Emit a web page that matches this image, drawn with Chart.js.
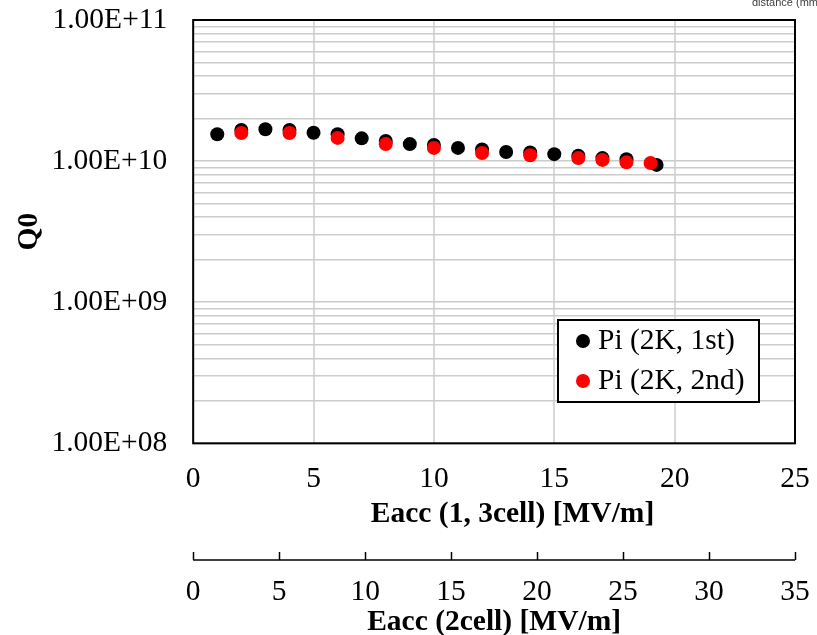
<!DOCTYPE html>
<html>
<head>
<meta charset="utf-8">
<script src="https://cdn.jsdelivr.net/npm/chart.js@4.4.1/dist/chart.umd.min.js"></script>
<style>
  body { margin: 0; background: #fff; }
</style>
</head>
<body>
<canvas id="myChart" width="817" height="635"></canvas>
<script>
// data
var eacc1st = [1, 2, 3, 4, 5, 6, 7, 8, 9, 10, 11, 12, 13, 14, 15, 16, 17, 18, 19.25];
var q0_1st = [1.55e10, 1.66e10, 1.68e10, 1.66e10, 1.59e10, 1.55e10, 1.45e10, 1.39e10, 1.32e10, 1.30e10,
              1.24e10, 1.21e10, 1.16e10, 1.15e10, 1.12e10, 1.09e10, 1.05e10, 1.03e10, 9.4e9];
var eacc2nd = [2, 4, 6, 8, 10, 12, 14, 16, 17, 18, 19];
var q0_2nd = [1.58e10, 1.58e10, 1.46e10, 1.32e10, 1.24e10, 1.14e10, 1.10e10, 1.05e10, 1.02e10, 9.8e9, 9.7e9];
var seriesNames = ['Pi (2K, 1st)', 'Pi (2K, 2nd)'];
var seriesColors = ['#000000', '#ff0000'];
var yDecades = [8, 9, 10, 11];
var x1Range = [0, 25];
var x2Range = [0, 35];

function toPoints(xs, ys) {
    return xs.map(function (x, i) { return { x: x, y: ys[i] }; });
}

// every 1..9 x 10^n line, like excel's log grid
var yTickValues = [];
for (var d = 0; d < yDecades.length - 1; d++) {
    for (var m = 1; m < 10; m++) yTickValues.push(m * Math.pow(10, yDecades[d]));
}
yTickValues.push(Math.pow(10, yDecades[yDecades.length - 1]));

var FS = 29.5;
var clear = 'rgba(0,0,0,0)';
Chart.defaults.font.family = "'Liberation Serif', 'Times New Roman', serif";
Chart.defaults.font.size = FS;
Chart.defaults.color = '#000';

var framePlugin = {
    id: 'frame',
    afterDraw: function (chart) {
        var ctx = chart.ctx, a = chart.chartArea;
        ctx.save();
        ctx.strokeStyle = '#000';
        ctx.lineWidth = 2;
        ctx.strokeRect(a.left, a.top, a.right - a.left, a.bottom - a.top);

        // second axis line under its ticks
        var s = chart.scales.x2;
        ctx.lineWidth = 1.5;
        ctx.beginPath();
        ctx.moveTo(s.left, s.top + 8);
        ctx.lineTo(s.right, s.top + 8);
        ctx.stroke();

        // legend box inside the plot
        var bx = 558, by = 320, bw = 201, bh = 82;
        ctx.fillStyle = '#fff';
        ctx.fillRect(bx, by, bw, bh);
        ctx.lineWidth = 2;
        ctx.strokeRect(bx, by, bw, bh);
        ctx.font = FS + "px 'Liberation Serif'";
        ctx.textBaseline = 'middle';
        chart.data.datasets.forEach(function (ds, i) {
            var cy = by + 21 + i * 40;
            ctx.fillStyle = ds.backgroundColor;
            ctx.beginPath();
            ctx.arc(bx + 25, cy, 7, 0, Math.PI * 2);
            ctx.fill();
            ctx.fillStyle = '#000';
            ctx.fillText(ds.label, bx + 40, cy);
        });

        // leftover label from the slide, cut at the edge
        ctx.font = "11px 'Liberation Sans'";
        ctx.fillStyle = '#404040';
        ctx.textBaseline = 'alphabetic';
        ctx.fillText('distance (mm)', 752, 6);
        ctx.restore();
    }
};

var ctx = document.getElementById('myChart').getContext('2d');
var myChart = new Chart(ctx, {
    type: 'scatter',
    data: {
        datasets: [{
            label: seriesNames[0],
            data: toPoints(eacc1st, q0_1st),
            backgroundColor: seriesColors[0],
            borderWidth: 0,
            pointRadius: 7,
            order: 2
        }, {
            label: seriesNames[1],
            data: toPoints(eacc2nd, q0_2nd),
            backgroundColor: seriesColors[1],
            borderWidth: 0,
            pointRadius: 7,
            order: 1
        }]
    },
    options: {
        responsive: false,
        animation: false,
        layout: { padding: { top: 20, right: 22, left: 12, bottom: -2 } },
        plugins: {
            legend: { display: false },
            tooltip: { enabled: false }
        },
        scales: {
            x: {
                type: 'linear',
                position: 'bottom',
                min: x1Range[0],
                max: x1Range[1],
                ticks: { stepSize: 5, padding: 0 },
                grid: { color: '#d9d9d9', lineWidth: 2, tickLength: 18, tickColor: clear },
                border: { display: false },
                title: {
                    display: true,
                    text: '     Eacc (1, 3cell) [MV/m]',
                    font: { weight: 'bold', size: FS },
                    padding: { top: 0, bottom: 20 }
                }
            },
            x2: {
                type: 'linear',
                position: 'bottom',
                min: x2Range[0],
                max: x2Range[1],
                ticks: { stepSize: 5, padding: 7, font: { size: FS, lineHeight: 1.675 } },
                grid: { drawOnChartArea: false, tickLength: 8, tickColor: '#000', tickWidth: 1.5 },
                border: { display: false },
                title: {
                    display: true,
                    text: 'Eacc (2cell) [MV/m]',
                    font: { weight: 'bold', size: FS, lineHeight: 1 },
                    padding: { top: -16, bottom: 0 }
                }
            },
            y: {
                type: 'logarithmic',
                min: Math.pow(10, yDecades[0]),
                max: Math.pow(10, yDecades[yDecades.length - 1]),
                afterBuildTicks: function (scale) {
                    scale.ticks = yTickValues.map(function (v) { return { value: v }; });
                },
                ticks: {
                    autoSkip: false,
                    padding: 0,
                    callback: function (v) {
                        var e = Math.log10(v);
                        if (Math.abs(e - Math.round(e)) > 1e-9) return '';
                        var n = Math.round(e);
                        return '1.00E' + (n < 0 ? '-' : '+') + (Math.abs(n) < 10 ? '0' : '') + Math.abs(n);
                    }
                },
                grid: { color: '#cccccc', lineWidth: 1.5, tickLength: 26, tickColor: clear },
                border: { display: false },
                title: {
                    display: true,
                    text: 'Q0',
                    font: { weight: 'bold', size: FS },
                    padding: { top: 0, bottom: 4 }
                }
            }
        }
    },
    plugins: [framePlugin]
});
</script>
</body>
</html>
